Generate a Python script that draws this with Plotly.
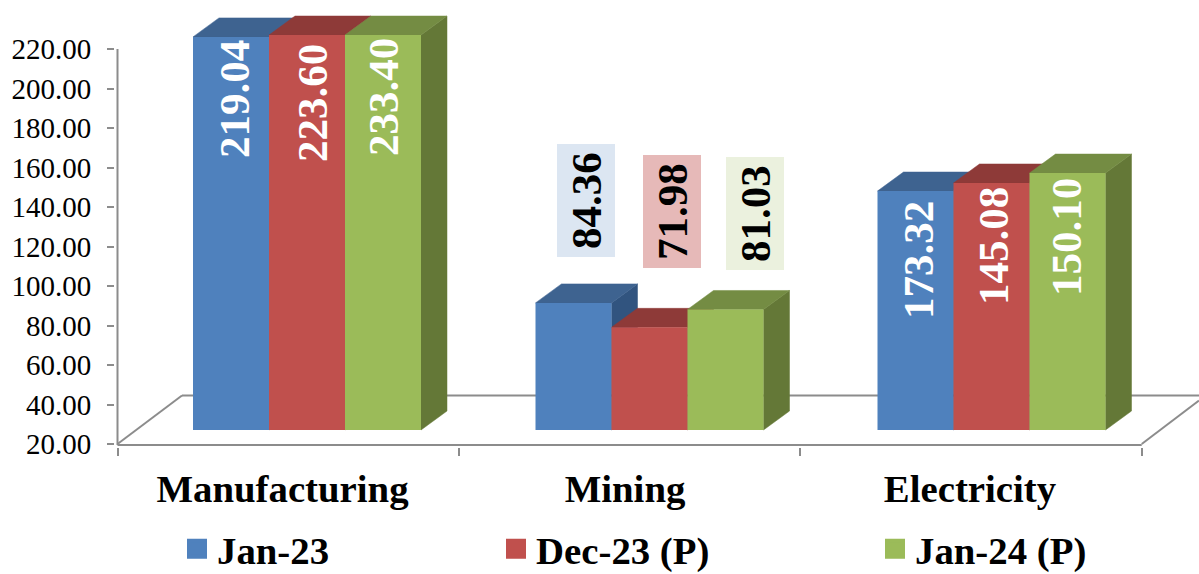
import plotly.graph_objects as go

categories = ["Manufacturing", "Mining", "Electricity"]
series_names = ["Jan-23", "Dec-23 (P)", "Jan-24 (P)"]
# values as printed on the labels
jan23_labels = [219.04, 84.36, 173.32]
dec23_labels = [223.60, 71.98, 145.08]
jan24_labels = [233.40, 81.03, 150.10]
# bar heights as drawn in the picture (Electricity Jan-23 is drawn lower than its label)
jan23_values = [219.04, 84.36, 141.0]
dec23_values = [223.60, 71.98, 145.08]
jan24_values = [233.40, 81.03, 150.10]
y_ticks = [20, 40, 60, 80, 100, 120, 140, 160, 180, 200, 220]

front = ["#4F81BD", "#C0504D", "#9BBB59"]
top_c = ["#3E6390", "#8E3A38", "#748C43"]
side_c = ["#31547F", "#7F3432", "#647837"]
box_c = ["#DCE6F2", "#E6B9B8", "#EBF1DE"]
GRID = "#8C8C8C"
FONT = "Liberation Serif"

W, H = 1199, 574
LEFT, BOTTOM_PX = 117.5, 444.0
PLOT_L, PLOT_B = 115, 447
UNIT = 341.4            # px per category
YS = 1.975              # px per value unit
AXIS_MAX = 220


def px_x(p):
    return (p - LEFT) / UNIT


def px_y(p):
    return 20 + (BOTTOM_PX - p) / YS


x_max = px_x(W)
BASE = px_y(430)
DX, DY = 26 / UNIT, 19 / YS
BAR_W = 76 / UNIT
group_px = [193, 535.5, 877.5]

fig = go.Figure()
shapes = []


def poly(pts, color):
    d = "M" + " L".join(f"{x},{y}" for x, y in pts) + " Z"
    return dict(type="path", path=d, fillcolor=color, line=dict(color=color, width=0.5),
                layer="below", xref="x", yref="y")


def seg(x0, y0, x1, y1):
    return dict(type="line", x0=x0, y0=y0, x1=x1, y1=y1, xref="x", yref="y", layer="below",
                line=dict(color=GRID, width=2))


# floor and axis lines
back_y = px_y(395.5)
floor_dx = px_x(182)
shapes += [
    seg(0, px_y(445), 0, AXIS_MAX),
    seg(0, px_y(445), 3, px_y(445)),
    seg(0, 20, floor_dx, back_y),
    seg(floor_dx, back_y, x_max, back_y),
    seg(3, 20, x_max, 20 + (x_max - 3) * UNIT * (48.5 / 64) / YS),
]

all_values = [jan23_values, dec23_values, jan24_values]
for k, (name, vals) in enumerate(zip(series_names, all_values)):
    xs, ys = [], []
    for i, v in enumerate(vals):
        h = min(v, AXIS_MAX) - 20
        x0 = px_x(group_px[i] + 76 * k)
        x1 = x0 + BAR_W
        yt = BASE + h
        shapes.append(poly([(x1, BASE), (x1 + DX, BASE + DY), (x1 + DX, yt + DY), (x1, yt)], side_c[k]))
        shapes.append(poly([(x0, yt), (x0 + DX, yt + DY), (x1 + DX, yt + DY), (x1, yt)], top_c[k]))
        xs.append(x0 + BAR_W / 2)
        ys.append(h)
    fig.add_trace(go.Bar(x=xs, y=ys, base=BASE, width=BAR_W, name=name, showlegend=False,
                         marker=dict(color=front[k], line=dict(width=0)),
                         customdata=vals, hovertemplate="%{customdata}<extra>" + name + "</extra>"))

# legend entries, one legend per entry so each can sit where the picture has it
legend_px = [177, 496, 875]
legend_ids = ["legend", "legend2", "legend3"]
legend_layout = {}
for k, name in enumerate(series_names):
    fig.add_trace(go.Scatter(x=[None], y=[None], mode="markers", name=name, legend=legend_ids[k],
                             marker=dict(symbol="square", size=16, color=front[k],
                                         line=dict(color=front[k], width=4))))
    legend_layout[legend_ids[k]] = dict(
        x=(legend_px[k] - PLOT_L) / (W - PLOT_L), y=(PLOT_B - 549) / PLOT_B,
        xanchor="left", yanchor="middle", bgcolor="rgba(0,0,0,0)", tracegroupgap=0,
        font=dict(family=FONT, size=38.8, color="black", weight="bold"))

# value labels
label_pos = [
    [(234, 99), (586, 200.5), (918, 260)],
    [(312, 103), (672, 211.5), (993, 246)],
    [(383, 97), (755, 213.5), (1066, 237)],
]
all_labels = [jan23_labels, dec23_labels, jan24_labels]
annotations = []
for k, labels in enumerate(all_labels):
    for i, v in enumerate(labels):
        px, py = label_pos[k][i]
        a = dict(x=px_x(px), y=px_y(py), xref="x", yref="y", text=f"{v:.2f}", showarrow=False,
                 textangle=-90, xanchor="center", yanchor="middle",
                 font=dict(family=FONT, size=43, weight="bold",
                           color="black" if i == 1 else "white"))
        if i == 1:
            a.update(bgcolor=box_c[k], width=110, height=55, align="center", valign="middle")
        annotations.append(a)

label_centres = [px_x(282.5), px_x(625), px_x(970)]

fig.update_layout(
    width=W, height=H, barmode="overlay",
    paper_bgcolor="white", plot_bgcolor="white",
    margin=dict(l=PLOT_L, r=0, t=0, b=H - PLOT_B, pad=0, autoexpand=False),
    xaxis=dict(range=[px_x(PLOT_L), x_max], tickmode="array", tickvals=label_centres, ticktext=categories,
               ticks="outside", ticklen=7, tickcolor="rgba(0,0,0,0)", showgrid=False, zeroline=False,
               showline=False, tickfont=dict(family=FONT, size=38.8, color="black", weight="bold"),
               minor=dict(tickmode="array", tickvals=[0, 1, 2, 3], ticks="outside", ticklen=8,
                          tickcolor=GRID, tickwidth=2, showgrid=False)),
    yaxis=dict(range=[px_y(PLOT_B), px_y(0)], tickmode="array", tickvals=y_ticks,
               ticktext=[f"{t:.2f}" for t in y_ticks], ticks="outside", ticklen=17, tickcolor="rgba(0,0,0,0)",
               showgrid=False, zeroline=False, showline=False,
               tickfont=dict(family=FONT, size=29, color="black"),
               minor=dict(tickmode="array", tickvals=y_ticks, ticks="outside", ticklen=7,
                          tickcolor=GRID, tickwidth=2, showgrid=False)),
    shapes=shapes, annotations=annotations, **legend_layout,
)

fig.write_html("out.html", post_script="document.body.style.margin='0';",
               config=dict(displayModeBar=False))
